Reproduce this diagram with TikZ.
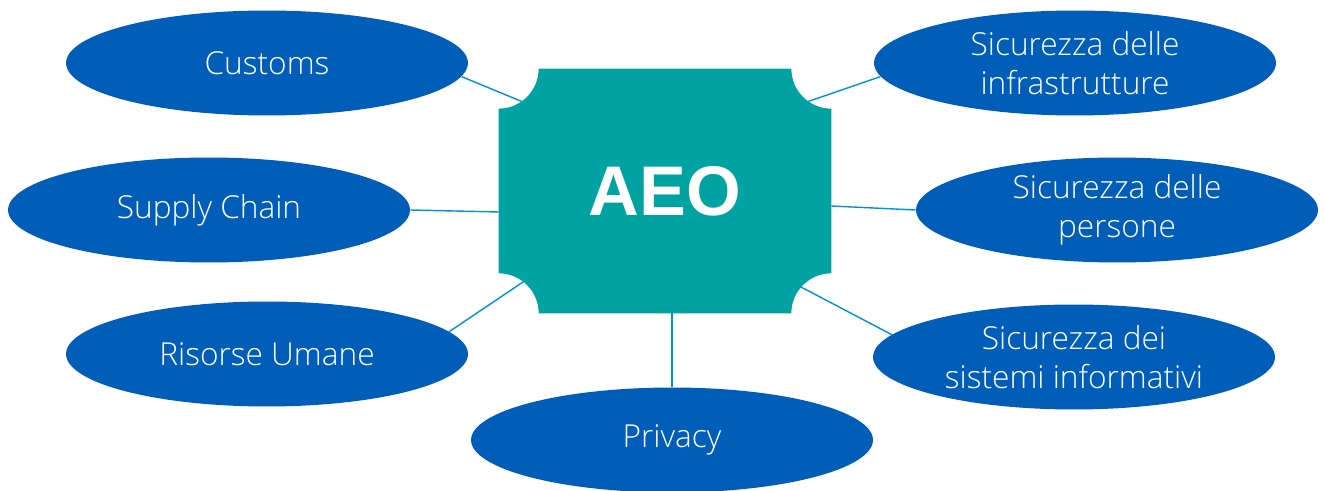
\documentclass[tikz,border=0pt]{standalone}
\usepackage{fontspec}
\setmainfont{Open Sans}[UprightFont=* Light]
\newfontfamily\headfont{Liberation Sans}
\usetikzlibrary{shapes.geometric}
\usetikzlibrary{backgrounds}

\definecolor{kblue}{HTML}{005EB8}
\definecolor{kteal}{HTML}{00A3A1}
\definecolor{klight}{HTML}{0091DA}

\tikzset{
	topic/.style={ellipse, fill=kblue, text=white, inner sep=0pt,
		minimum width=8.04cm, minimum height=2.1cm, align=center,
		font=\fontsize{18}{22}\selectfont},
	hub/.style={rectangle, inner sep=0pt, minimum width=6.64cm,
		minimum height=4.88cm, text=white,
		font=\headfont\bfseries\fontsize{40}{44}\selectfont},
	link/.style={draw=klight, line width=0.8pt},
}

\begin{document}
\begin{tikzpicture}[x=0.02cm,y=0.02cm]
\useasboundingbox (0,0) rectangle (1324,490);

	% centre
\path (665,299) node[hub] (aeo) {AEO};
\begin{scope}[on background layer]
\fill[kteal]
	([xshift=0.8cm]aeo.north west) -- ([xshift=-0.8cm]aeo.north east)
	arc[start angle=180, end angle=270, radius=0.8cm]
	-- ([yshift=0.8cm]aeo.south east)
	arc[start angle=90, end angle=180, radius=0.8cm]
	-- ([xshift=0.8cm]aeo.south west)
	arc[start angle=0, end angle=90, radius=0.8cm]
	-- ([yshift=-0.8cm]aeo.north west)
	arc[start angle=270, end angle=360, radius=0.8cm]
	-- cycle;
\end{scope}

	% topics
\path
	(267,427) node[topic] (customs) {Customs}
	(209,280) node[topic] (supply) {Supply Chain}
	(267,136) node[topic] (risorse) {Risorse Umane}
	(672,50) node[topic] (privacy) {Privacy}
	(1075,427) node[topic] (infra) {Sicurezza delle\\infrastrutture}
	(1117,280) node[topic] (persone) {Sicurezza delle\\persone}
	(1074,133) node[topic] (sistemi) {Sicurezza dei\\sistemi informativi}
	;

	% ends on the hub
\coordinate (nw) at ([shift={(-55:0.8cm)}]aeo.north west);
\coordinate (sw) at ([shift={(52:0.8cm)}]aeo.south west);
\coordinate (ne) at ([shift={(235:0.8cm)}]aeo.north east);
\coordinate (se) at ([shift={(139:0.8cm)}]aeo.south east);
\coordinate (w) at ([yshift=-0.42cm]aeo.west);
\coordinate (e) at ([yshift=-0.3cm]aeo.east);
\coordinate (s) at (privacy.north |- aeo.south);

\draw[link] (nw) -- (customs.-4);
\draw[link] (w) -- (supply.east);
\draw[link] (sw) -- (risorse.7);
\draw[link] (s) -- (privacy.north);
\draw[link] (ne) -- (infra.184);
\draw[link] (e) -- (persone.west);
\draw[link] (se) -- (sistemi.173);
\end{tikzpicture}
\end{document}
